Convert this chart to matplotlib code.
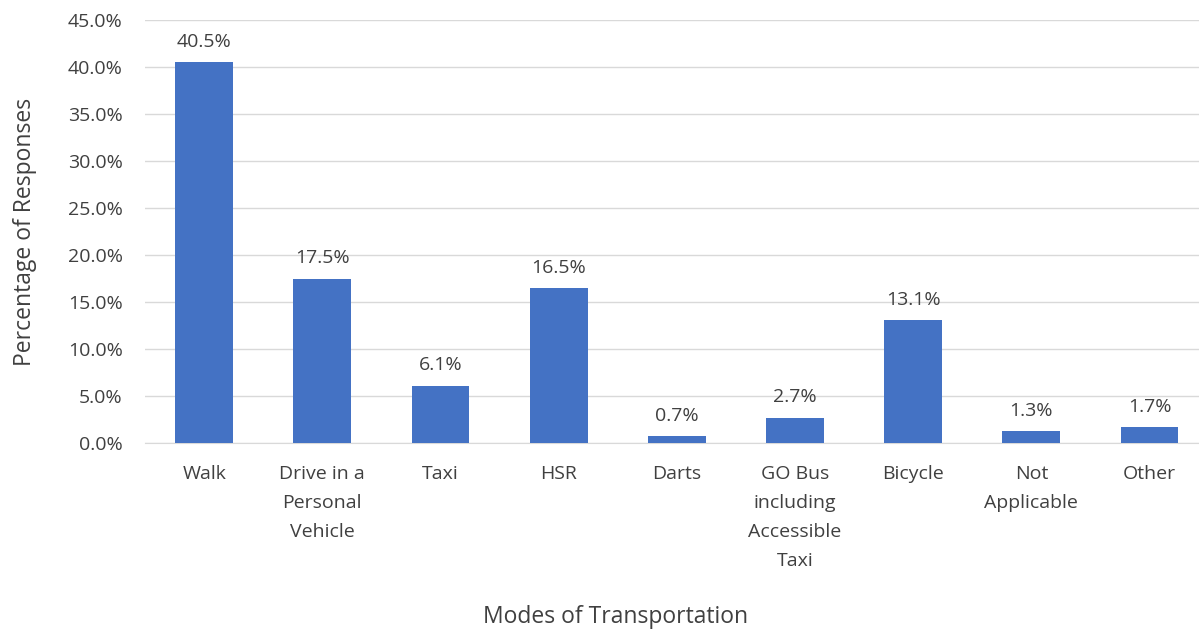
import numpy as np
import matplotlib.pyplot as plt

modes = ["Walk", "Drive in a\nPersonal\nVehicle", "Taxi", "HSR", "Darts",
         "GO Bus\nincluding\nAccessible\nTaxi", "Bicycle", "Not\nApplicable", "Other"]
pct = [40.5, 17.5, 6.1, 16.5, 0.7, 2.7, 13.1, 1.3, 1.7]
yticks = np.arange(0, 46, 5)

txt = "#404040"
plt.rcParams['font.family'] = ['Open Sans', 'DejaVu Sans']

fig = plt.figure(figsize=(11.99, 6.29), dpi=100)
ax = fig.add_axes([0.121, 0.2957, 0.887, 0.6725])

x = np.arange(len(modes))
ax.bar(x, pct, width=0.49, color="#4472C4", zorder=3)
for xi, v in zip(x, pct):
    ax.text(xi, v + 1.2, f"{v:.1f}%", ha="center", va="bottom", fontsize=14, color=txt)

ax.set_xlim(-0.5, len(modes) - 0.5)
ax.set_ylim(0, 45)
ax.set_yticks(yticks)
ax.set_yticklabels([f"{t:.1f}%" for t in yticks], fontsize=14, color=txt)
ax.set_xticks(x)
ax.set_xticklabels(modes, fontsize=14, color=txt, linespacing=1.78)
ax.tick_params(axis="y", length=0, pad=16)
ax.tick_params(axis="x", length=0, pad=16)
ax.grid(axis="y", color="#d9d9d9", linewidth=1, zorder=0)
for s in ["top", "right", "left"]:
    ax.spines[s].set_visible(False)
ax.spines["bottom"].set_color("#d9d9d9")

ax.set_ylabel("Percentage of Responses", fontsize=16.5, color=txt, labelpad=22)
fig.text(0.513, 0.01, "Modes of Transportation", ha="center", fontsize=16.5, color=txt)

fig.savefig("out.png", dpi=100)
